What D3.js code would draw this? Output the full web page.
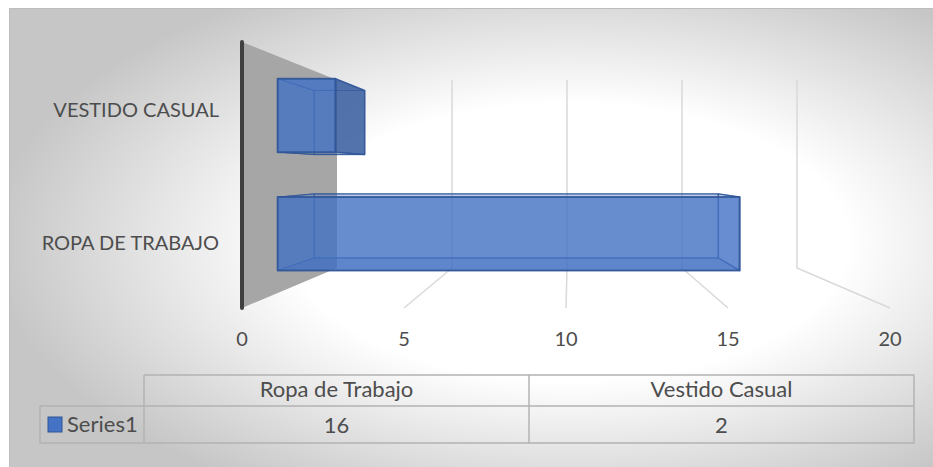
<!DOCTYPE html>
<html>
  <head>
    <meta charset="UTF-8">
    <title>Series1 3D bar</title>
    <style>
      html, body { margin: 0; padding: 0; background: #fff; }
      svg { display: block; }
      text { font-family: Lato, "Open Sans", sans-serif; fill: #4d4d4d; }
    </style>
  </head>
  <body>

    <svg class="chart"></svg>

    <script src="https://d3js.org/d3.v7.min.js"></script>
    <script>

/* DATA */
var categories = ["Ropa de Trabajo", "Vestido Casual"];
var axisLabels = ["ROPA DE TRABAJO", "VESTIDO CASUAL"];
var series1 = [16, 2];
var seriesName = "Series1";
var tickValues = [0, 5, 10, 15, 20];

var width = 933, height = 467;

var svg = d3.select("svg")
    .attr("width", width)
    .attr("height", height);

// background: radial grey-to-white like the office style
var defs = svg.append("defs");
var grad = defs.append("radialGradient")
    .attr("id", "bg")
    .attr("cx", 0.6).attr("cy", 0.5).attr("r", 0.62);
grad.append("stop").attr("offset", 0).attr("stop-color", "#ffffff");
grad.append("stop").attr("offset", 0.48).attr("stop-color", "#ffffff");
grad.append("stop").attr("offset", 1).attr("stop-color", "#c6c6c6");

svg.append("rect")
    .attr("x", 9.5).attr("y", 8.5)
    .attr("width", width).attr("height", height)
    .attr("fill", "url(#bg)")
    .attr("stroke", "#bdbdbd")
    .attr("stroke-width", 1);

/* SCALES: a front plane and a back plane, points in between are mixed by depth t */
var xFront = d3.scaleLinear().domain([0, 20]).range([242, 890]);
var xBack  = d3.scaleLinear().domain([0, 20]).range([337, 797]);
var yFront = d3.scaleLinear().domain([0, 1]).range([42, 308]);
var yBack  = d3.scaleLinear().domain([0, 1]).range([80, 268]);

var yBand = d3.scaleBand()
    .domain(categories.slice().reverse())
    .range([0, 1])
    .paddingInner(0.38)
    .paddingOuter(0.19);

function P(v, f, t) {
  var x = xFront(v) + (xBack(v) - xFront(v)) * t;
  var y = yFront(f) + (yBack(f) - yFront(f)) * t;
  return [x, y];
}

function poly(pts) {
  return pts.map(function(p) { return p.join(","); }).join(" ");
}

var tNear = 0.375, tFar = 0.76;

/* LEFT WALL */
svg.append("polygon")
    .attr("points", poly([P(0, 0, 0), P(0, 0, 1), P(0, 1, 1), P(0, 1, 0)]))
    .attr("fill", "#a6a6a6");

/* GRIDLINES on back wall and floor */
var grid = svg.append("g").attr("stroke", "#d9d9d9").attr("stroke-width", 1.5).attr("fill", "none");
tickValues.slice(1).forEach(function(v) {
  grid.append("polyline")
      .attr("points", poly([P(v, 0, 1), P(v, 1, 1), P(v, 1, 0)]));
});

/* AXIS LINE */
svg.append("line")
    .attr("x1", xFront(0)).attr("x2", xFront(0))
    .attr("y1", yFront(0)).attr("y2", yFront(1))
    .attr("stroke", "#404040")
    .attr("stroke-width", 4)
    .attr("stroke-linecap", "round");

/* BARS */
var bars = svg.append("g");
categories.forEach(function(c, i) {
  var v = series1[i];
  var f0 = yBand(c), f1 = yBand(c) + yBand.bandwidth();
  // the end face shows only when it turns toward the viewer
  var endVisible = xBack(v) > xFront(v);
  var g = bars.append("g");
  var faces = [
    { pts: [P(0, f0, tFar), P(v, f0, tFar), P(v, f1, tFar), P(0, f1, tFar)], fill: "#4472c4", op: 0.15, sw: 1 },
    { pts: [P(0, f0, tNear), P(0, f0, tFar), P(0, f1, tFar), P(0, f1, tNear)], fill: "#4472c4", op: 0.12, sw: 1 },
    { pts: [P(0, f0, tNear), P(v, f0, tNear), P(v, f0, tFar), P(0, f0, tFar)], fill: "#4472c4", op: 0.25, sw: 1 },
    { pts: [P(0, f1, tNear), P(v, f1, tNear), P(v, f1, tFar), P(0, f1, tFar)], fill: "#2f5597", op: 0.3, sw: 1 },
    { pts: [P(v, f0, tNear), P(v, f0, tFar), P(v, f1, tFar), P(v, f1, tNear)], fill: endVisible ? "#3a5e9f" : "#4472c4", op: endVisible ? 0.85 : 0.12, sw: 1.5 },
    { pts: [P(0, f0, tNear), P(v, f0, tNear), P(v, f1, tNear), P(0, f1, tNear)], fill: "#4472c4", op: 0.78, sw: 2 }
  ];
  faces.forEach(function(fc) {
    g.append("polygon")
        .attr("points", poly(fc.pts))
        .attr("fill", fc.fill)
        .attr("fill-opacity", fc.op)
        .attr("stroke", "#2f5597")
        .attr("stroke-opacity", 0.8)
        .attr("stroke-width", fc.sw)
        .attr("stroke-linejoin", "round");
  });
});

/* AXIS LABELS */
svg.append("g")
  .selectAll("text")
  .data(tickValues)
  .enter().append("text")
    .attr("x", function(d) { return xFront(d); })
    .attr("y", 346)
    .attr("text-anchor", "middle")
    .style("font-size", "20px")
    .text(function(d) { return d; });

svg.append("g")
  .selectAll("text")
  .data(categories)
  .enter().append("text")
    .attr("x", 219)
    .attr("y", function(d) { return yFront(yBand(d) + yBand.bandwidth() / 2) + 8; })
    .attr("text-anchor", "end")
    .style("font-size", "20px")
    .text(function(d, i) { return axisLabels[i]; });

/* DATA TABLE */
var xTable = d3.scaleBand().domain(categories).range([144, 914]);
var rowTop = 375, rowMid = 406, rowBot = 443, keyLeft = 40;

var table = svg.append("g").attr("stroke", "#b3b3b3").attr("stroke-width", 1.5).attr("fill", "none");
table.append("path")
    .attr("d", "M" + xTable.range()[0] + "," + rowTop + "H" + xTable.range()[1] + "V" + rowBot + "H" + keyLeft + "V" + rowMid + "H" + xTable.range()[1]);
categories.forEach(function(c) {
  table.append("line")
      .attr("x1", xTable(c)).attr("x2", xTable(c))
      .attr("y1", rowTop).attr("y2", rowBot);
});

svg.append("g")
  .selectAll("text")
  .data(categories)
  .enter().append("text")
    .attr("x", function(d) { return xTable(d) + xTable.bandwidth() / 2; })
    .attr("y", 397)
    .attr("text-anchor", "middle")
    .style("font-size", "22px")
    .text(function(d) { return d; });

svg.append("g")
  .selectAll("text")
  .data(series1)
  .enter().append("text")
    .attr("x", function(d, i) { return xTable(categories[i]) + xTable.bandwidth() / 2; })
    .attr("y", 433)
    .attr("text-anchor", "middle")
    .style("font-size", "22px")
    .text(function(d) { return d; });

svg.append("rect")
    .attr("x", 48).attr("y", 417)
    .attr("width", 14).attr("height", 15)
    .attr("fill", "#4472c4")
    .attr("stroke", "#2f5597");

svg.append("text")
    .attr("x", 67)
    .attr("y", 432)
    .style("font-size", "22px")
    .text(seriesName);

</script>
  </body>
</html>
